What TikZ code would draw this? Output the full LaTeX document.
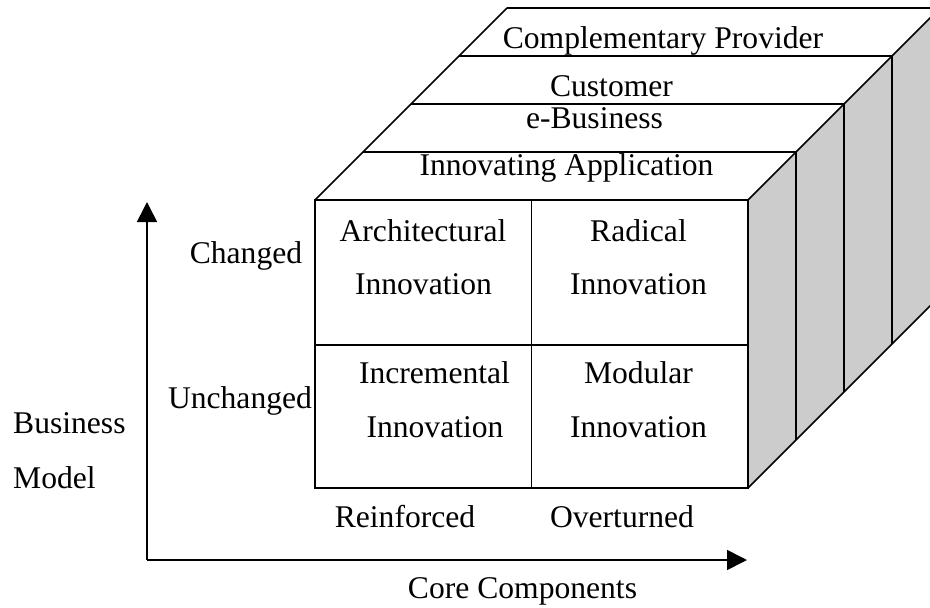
\documentclass[tikz,border=0pt]{standalone}
\usepackage{fontspec}
\setmainfont{Liberation Serif}
\usetikzlibrary{arrows.meta}
\definecolor{sidegray}{RGB}{204,204,204}
\begin{document}
\begin{tikzpicture}[x=1pt,y=-1pt,
  edge/.style={line width=1.6pt, line join=miter},
  lbl/.style={anchor=base, inner sep=0pt, font=\fontsize{31.6}{38}\selectfont},
  axisarrow/.style={line width=1.6pt, -{Triangle[length=20pt,width=20pt]}}]
\useasboundingbox (0,0) rectangle (930,608);

% front face corners and cell dividers
\coordinate (fTL) at (315,200);
\coordinate (fTR) at (748,200);
\coordinate (fBR) at (748,488);
\coordinate (fBL) at (315,488);
\coordinate (fTM) at (531.5,200);
\coordinate (fBM) at (531.5,488);
\coordinate (fML) at (315,345);
\coordinate (fMR) at (748,345);

% stacked layers: each one is shifted back by (48,-48)
\foreach \k in {0,...,4} {
  \coordinate (tl\k) at (315+48*\k, 200-48*\k);
  \coordinate (tr\k) at (748+48*\k, 200-48*\k);
  \coordinate (br\k) at (748+48*\k, 488-48*\k);
}

\begin{scope}
\clip (0,0) rectangle (930,608);
% shaded right side
\fill[sidegray] (tr0) -- (tr4) -- (br4) -- (br0) -- cycle;
% layer edges on top and side
\foreach \k in {0,...,3} {
  \draw[edge] (tl\k) -- (tr\k);
}
\draw[edge] (tl4) -- (tr4);
\draw[edge] (tl0) -- (tl4);
\draw[edge] (tr0) -- (tr4);
\draw[edge] (br0) -- (br4);
\foreach \k in {1,...,3} {
  \draw[edge] (tr\k) -- (br\k);
}
\end{scope}

% front face
\draw[edge] (fTL) rectangle (fBR);
\draw[edge] (fTM) -- (fBM);
\draw[edge] (fML) -- (fMR);

% layer labels
\node[lbl] (lay1) at (566.5,175) {Innovating Application};
\node[lbl] (lay2) at (594.5,128) {e-Business};
\node[lbl] (lay3) at (611.5,96) {Customer};
\node[lbl] (lay4) at (663,48) {Complementary Provider};

% cell labels
\node[lbl] (arch1) at (423,241) {Architectural};
\node[lbl] (arch2) at (423.5,294) {Innovation};
\node[lbl] (rad1) at (638.5,241) {Radical};
\node[lbl] (rad2) at (638.5,294) {Innovation};
\node[lbl] (inc1) at (434.5,383) {Incremental};
\node[lbl] (inc2) at (435,437) {Innovation};
\node[lbl] (mod1) at (638.5,383) {Modular};
\node[lbl] (mod2) at (638.5,437) {Innovation};

% axes
\coordinate (origin) at (147,560);
\coordinate (ytip) at (147,202);
\coordinate (xtip) at (747,560);
\draw[axisarrow] (origin) -- (ytip);
\draw[axisarrow] (origin) -- (xtip);

% axis labels
\node[lbl] (changed) at (246,263) {Changed};
\node[lbl] (unchanged) at (240,408) {Unchanged};
\node[lbl, anchor=base west] (bm1) at (13,433) {Business};
\node[lbl, anchor=base west] (bm2) at (13,488) {Model};
\node[lbl] (reinf) at (405,527) {Reinforced};
\node[lbl] (overt) at (622,527) {Overturned};
\node[lbl] (core) at (522.5,598) {Core Components};
\end{tikzpicture}
\end{document}
